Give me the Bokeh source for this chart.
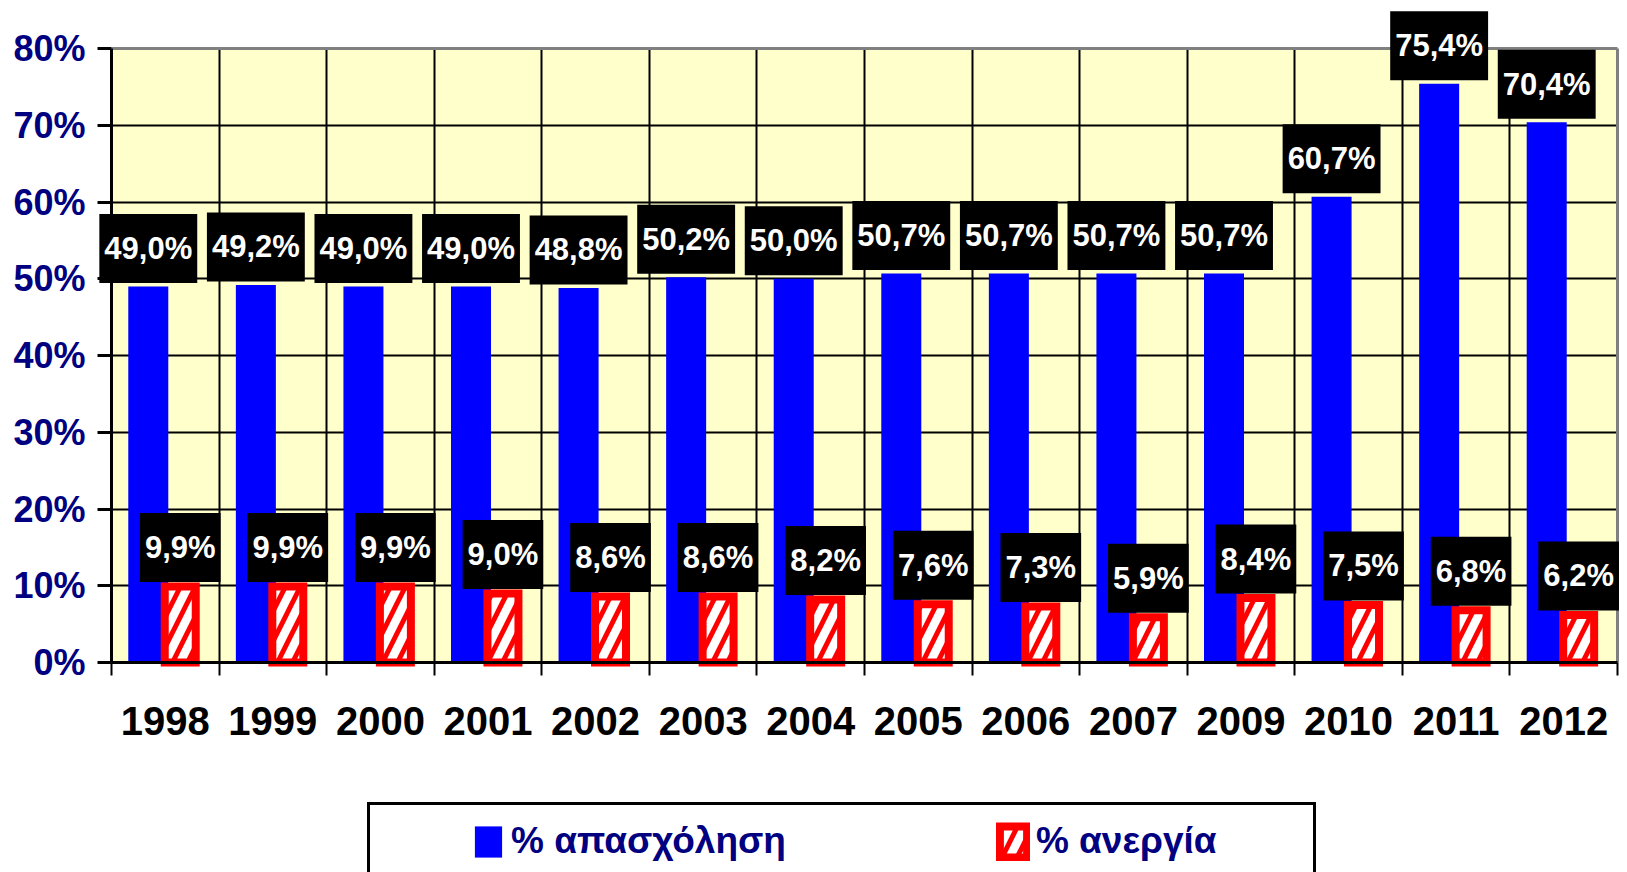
from bokeh.plotting import figure
from bokeh.models import (Range1d, FixedTicker, PrintfTickFormatter, Label, Legend,
                          LegendItem, ColumnDataSource, Grid, BoxAnnotation)
from bokeh.transform import dodge
from bokeh.embed import file_html
from bokeh.resources import INLINE

# ---- data ----
years = ["1998", "1999", "2000", "2001", "2002", "2003", "2004", "2005",
         "2006", "2007", "2009", "2010", "2011", "2012"]
employment = [49.0, 49.2, 49.0, 49.0, 48.8, 50.2, 50.0, 50.7,
              50.7, 50.7, 50.7, 60.7, 75.4, 70.4]
unemployment = [9.9, 9.9, 9.9, 9.0, 8.6, 8.6, 8.2, 7.6,
                7.3, 5.9, 8.4, 7.5, 6.8, 6.2]
y_ticks = [0, 10, 20, 30, 40, 50, 60, 70, 80]
series_names = ["% απασχόληση", "% ανεργία"]

n = len(years)
centers = [i + 0.5 for i in range(n)]
boundaries = list(range(0, n + 1))
YMAX = y_ticks[-1]
BLUE_OFF = -0.158
RED_OFF = 0.139

# ---- layout (pixels) ----
W, H = 1627, 872
PLOT_L, PLOT_R, PLOT_T, PLOT_B = 111, 1617, 48, 662
sx = (PLOT_R - PLOT_L) / n          # px per category
sy = (PLOT_B - PLOT_T) / YMAX       # px per percent

x_range = Range1d(-PLOT_L / sx, (W - PLOT_L) / sx)
y_range = Range1d(-(H - PLOT_B) / sy, YMAX + PLOT_T / sy)

src = ColumnDataSource(dict(x=centers, emp=employment, unemp=unemployment))

NAVY = "#000080"
FONT = "Liberation Sans"

p = figure(width=W, height=H, x_range=x_range, y_range=y_range,
           output_backend="svg", toolbar_location=None,
           min_border=0, min_border_left=0, min_border_right=0,
           min_border_top=0, min_border_bottom=0,
           background_fill_color="white", border_fill_color="white")
p.outline_line_color = None

# plot-area background
p.add_layout(BoxAnnotation(left=0, right=n, bottom=0, top=YMAX,
                           fill_color="#FFFFCC", fill_alpha=1.0,
                           line_color=None, level="image"))

# grids
p.xgrid.ticker = FixedTicker(ticks=boundaries[1:-1])
p.xgrid.cross_bounds = (0, YMAX)
p.ygrid.ticker = FixedTicker(ticks=y_ticks[1:-1])
p.ygrid.cross_bounds = (0, n)
p.grid.grid_line_color = "black"
p.grid.grid_line_width = 2
# grey top / right border of the plot area
p.add_layout(Grid(dimension=1, ticker=FixedTicker(ticks=[YMAX]), cross_bounds=(0, n),
                  grid_line_color="#808080", grid_line_width=3))
p.add_layout(Grid(dimension=0, ticker=FixedTicker(ticks=[n]), cross_bounds=(0, YMAX),
                  grid_line_color="#808080", grid_line_width=3))

blue = p.vbar(x=dodge("x", BLUE_OFF, range=p.x_range), top="emp", bottom=0, width=0.372,
              source=src, fill_color="#0000FF", line_color=None)
red = p.vbar(x=dodge("x", RED_OFF, range=p.x_range), top="unemp", bottom=0, width=0.288,
             source=src, fill_color="white", line_color="#FF0000", line_width=8,
             line_join="miter", hatch_pattern="/", hatch_color="#FF0000",
             hatch_weight=5, hatch_scale=30)


def fmt(v):
    return f"{v:.1f}".replace(".", ",") + "%"


for c, v in zip(centers, employment):
    p.add_layout(Label(x=c + BLUE_OFF, y=v, text=fmt(v), y_offset=38,
                       text_align="center", text_baseline="middle",
                       text_font=FONT, text_font_style="bold", text_font_size="31px",
                       text_color="white", background_fill_color="black",
                       padding=dict(left=5, right=5, top=17, bottom=17)))
for c, v in zip(centers, unemployment):
    p.add_layout(Label(x=c + RED_OFF, y=v, text=fmt(v), y_offset=39,
                       text_align="center", text_baseline="middle",
                       text_font=FONT, text_font_style="bold", text_font_size="31px",
                       text_color="white", background_fill_color="black",
                       padding=dict(left=5, right=5, top=17, bottom=17)))

# x axis (fixed at y = 0)
xa = p.xaxis[0]
xa.fixed_location = 0
xa.bounds = (0, n)
xa.ticker = FixedTicker(ticks=centers, minor_ticks=boundaries)
xa.major_label_overrides = {c: y for c, y in zip(centers, years)}
xa.major_tick_line_color = None
xa.major_tick_in = 0
xa.major_tick_out = 0
xa.minor_tick_in = 0
xa.minor_tick_out = 13
xa.minor_tick_line_color = "black"
xa.minor_tick_line_width = 2
xa.axis_line_color = "black"
xa.axis_line_width = 3
xa.major_label_standoff = 31
xa.major_label_text_font = FONT
xa.major_label_text_font_style = "bold"
xa.major_label_text_font_size = "40px"
xa.major_label_text_color = "black"

# y axis (fixed at x = 0)
ya = p.yaxis[0]
ya.fixed_location = 0
ya.bounds = (0, YMAX)
ya.ticker = FixedTicker(ticks=y_ticks)
ya.formatter = PrintfTickFormatter(format="%d%%")
ya.major_tick_in = 0
ya.major_tick_out = 14
ya.major_tick_line_color = "black"
ya.major_tick_line_width = 3
ya.minor_tick_line_color = None
ya.axis_line_color = "black"
ya.axis_line_width = 3
ya.major_label_standoff = 12
ya.major_label_text_font = FONT
ya.major_label_text_font_style = "bold"
ya.major_label_text_font_size = "36px"
ya.major_label_text_color = NAVY

legend = Legend(items=[LegendItem(label=series_names[0], renderers=[blue]),
                       LegendItem(label=series_names[1], renderers=[red])],
                orientation="horizontal", location=(367, -8),
                title=" ", title_location="left", title_text_font_size="8px",
                title_standoff=77,
                label_text_font=FONT, label_text_font_style="bold",
                label_text_font_size="37px", label_text_color=NAVY,
                glyph_width=34, glyph_height=39, label_standoff=6, spacing=210,
                label_width=262,
                padding=15, border_line_color="black", border_line_width=3,
                border_line_alpha=1.0,
                background_fill_color="white", background_fill_alpha=1.0)
p.add_layout(legend, "center")

open("out.html", "w").write(file_html(p, INLINE))
